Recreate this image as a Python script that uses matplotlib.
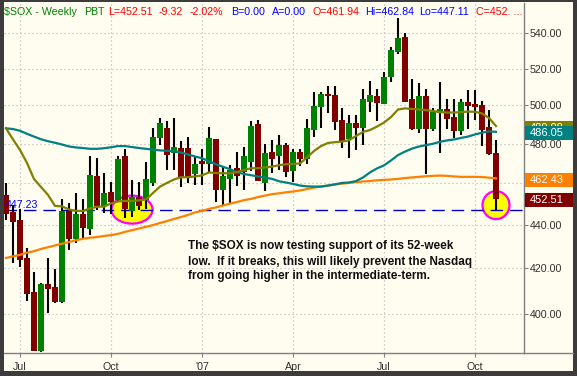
import numpy as np
import matplotlib
matplotlib.use("Agg")
import matplotlib.pyplot as plt
from matplotlib.patches import Ellipse, Rectangle
from matplotlib.lines import Line2D
from matplotlib.transforms import ScaledTranslation, blended_transform_factory
from matplotlib.ticker import FixedLocator, NullLocator, FuncFormatter

plt.rcParams['font.family'] = ['Liberation Sans', 'DejaVu Sans']

# weekly candles, $SOX, mid-June 2006 .. late Oct 2007
opens = [454.3, 446.3, 442.3, 424.7, 409.3, 384.6, 412.9, 411.7, 405.3, 446.6,
         433.4, 445.2, 438.0, 463.6, 449.2, 455.8, 451.9, 473.6, 446.8, 453.5,
         451.9, 460.0, 482.7, 488.3, 475.2, 477.7, 477.6, 464.5, 471.1, 469.6,
         482.3, 456.7, 461.9, 467.8, 465.5, 470.8, 490.2, 460.0, 475.8, 473.4,
         479.0, 466.0, 475.8, 472.0, 487.0, 498.9, 506.2, 505.6, 492.2, 482.3,
         490.8, 488.2, 502.0, 505.1, 500.7, 515.2, 529.6, 537.9, 503.5, 487.7,
         505.1, 487.7, 495.8, 498.1, 494.0, 486.6, 501.7, 500.7, 500.0, 488.7,
         475.3]
highs = [460.3, 449.5, 447.5, 429.3, 418.2, 413.5, 424.7, 419.9, 452.2, 450.4,
         455.2, 452.2, 473.6, 472.5, 465.2, 460.8, 473.6, 477.1, 461.6, 460.6,
         470.8, 487.9, 493.1, 491.7, 493.1, 481.3, 483.3, 473.4, 477.4, 488.5,
         482.5, 468.0, 469.1, 475.7, 478.4, 491.7, 492.2, 479.6, 481.8, 484.4,
         480.3, 477.1, 477.1, 492.6, 507.4, 507.4, 510.4, 510.4, 498.4, 494.9,
         494.9, 508.6, 513.2, 508.6, 518.4, 532.4, 549.3, 540.4, 514.3, 511.9,
         508.9, 498.4, 512.9, 503.2, 503.5, 503.5, 508.3, 508.3, 502.2, 497.5,
         481.8]
lows = [442.3, 422.3, 420.8, 405.7, 384.3, 384.2, 400.6, 404.6, 404.8, 428.3,
        431.4, 433.6, 435.3, 447.1, 445.5, 445.2, 451.4, 443.1, 443.9, 447.1,
        447.4, 458.7, 479.2, 466.6, 466.6, 458.2, 460.2, 459.2, 459.2, 465.0,
        451.1, 448.8, 450.4, 458.7, 456.7, 466.0, 460.9, 456.4, 465.0, 466.6,
        463.3, 460.8, 468.5, 469.6, 483.2, 487.9, 495.8, 486.8, 477.7, 472.8,
        476.7, 479.5, 496.6, 491.8, 500.5, 512.9, 528.1, 501.6, 486.8, 485.5,
        464.6, 486.6, 475.3, 487.4, 482.7, 484.4, 487.4, 492.2, 478.9, 474.3,
        447.11]
closes = [445.2, 441.5, 423.8, 408.7, 384.6, 412.9, 410.7, 405.1, 446.6, 433.4,
          445.2, 438.5, 464.1, 449.2, 455.4, 450.9, 471.9, 447.6, 453.2, 449.2,
          461.9, 483.3, 490.5, 474.3, 478.4, 463.2, 462.9, 469.6, 469.6, 483.0,
          456.7, 463.6, 466.6, 463.4, 473.6, 489.1, 461.3, 475.2, 471.9, 479.0,
          465.7, 475.8, 472.0, 488.2, 499.5, 506.2, 504.8, 491.3, 480.9, 490.5,
          488.2, 503.7, 505.6, 501.3, 515.2, 530.5, 537.4, 502.0, 487.7, 505.1,
          487.7, 496.6, 498.1, 492.8, 486.6, 501.7, 499.5, 499.2, 487.0, 474.6,
          452.51]

ma_short = [487.9, 482.1, 476.7, 470.1, 462.1, 458.2, 454.3, 449.0, 448.8, 447.3,
            446.6, 446.6, 447.8, 448.6, 448.7, 450.2, 451.2, 451.4, 451.4, 451.7,
            452.1, 455.3, 458.4, 460.2, 461.9, 463.0, 463.0, 463.4, 463.9, 465.4,
            465.1, 465.0, 465.0, 465.6, 466.6, 467.5, 467.5, 467.9, 468.3, 469.0,
            469.5, 469.6, 469.9, 472.9, 476.2, 478.7, 480.3, 480.7, 481.0, 481.7,
            483.9, 486.0, 487.0, 488.8, 490.9, 493.8, 497.8, 498.4, 498.1, 497.8,
            497.5, 497.0, 496.4, 496.2, 496.2, 496.4, 496.7, 496.6, 495.7, 493.3,
            489.08]
ma_mid = [487.9, 487.5, 486.6, 485.0, 483.6, 482.2, 481.2, 480.4, 479.5, 478.5,
          478.0, 477.7, 477.3, 477.3, 477.6, 478.1, 478.7, 478.7, 478.2, 477.7,
          477.3, 476.9, 476.5, 476.3, 476.1, 475.4, 474.4, 473.4, 472.5, 471.0,
          469.5, 468.2, 467.0, 465.5, 464.6, 464.0, 463.4, 462.8, 462.2, 461.0,
          460.4, 459.7, 458.9, 458.5, 458.4, 458.4, 458.9, 459.5, 460.2, 460.4,
          461.1, 462.9, 465.4, 467.4, 468.9, 471.4, 474.1, 475.9, 477.4, 478.5,
          479.2, 479.9, 480.9, 481.6, 482.1, 482.9, 483.6, 484.7, 485.6, 486.3,
          486.05]
ma_long = [424.7, 425.4, 426.1, 427.1, 427.8, 428.8, 429.6, 430.4, 431.2, 432.0,
           432.8, 433.5, 434.0, 434.3, 434.8, 435.2, 435.8, 436.7, 437.5, 438.3,
           439.1, 439.9, 440.9, 441.8, 442.8, 443.7, 444.7, 445.9, 446.6, 447.6,
           448.3, 449.2, 450.1, 450.9, 451.8, 452.4, 453.3, 454.0, 454.7, 455.1,
           455.6, 456.0, 456.5, 457.2, 457.9, 458.4, 458.9, 459.4, 459.8, 460.2,
           460.6, 460.9, 461.1, 461.5, 461.7, 461.9, 462.2, 462.6, 462.9, 463.2,
           463.5, 463.7, 463.8, 463.7, 463.4, 463.2, 463.2, 463.2, 463.1, 462.8,
           462.43]

support = 447.23
tick_weeks = [2, 15, 28, 41, 54, 67]
tick_labels = ["Jul", "Oct", "'07", "Apr", "Jul", "Oct"]
price_ticks = [400, 420, 440, 460, 480, 500, 520, 540]
circled_weeks = [18, 70]

title_parts = [("$SOX - Weekly", "#008000", 4.5), ("PBT", "#008000", 84),
               ("L=452.51", "#ff0000", 108.5), ("-9.32", "#ff0000", 159),
               ("-2.02%", "#ff0000", 190), ("B=0.00", "#0000ff", 231),
               ("A=0.00", "#0000ff", 271.5), ("O=461.94", "#ff0000", 312.5),
               ("Hi=462.84", "#0000ff", 365), ("Lo=447.11", "#0000ff", 419.5),
               ("C=452. ...", "#ff0000", 476.5)]
note_lines = ["The $SOX is now testing support of its 52-week",
              "low.  If it breaks, this will likely prevent the Nasdaq",
              "from going higher in the intermediate-term."]

BG = "#fffcf0"
W, H = 577, 376


def fx(px):
    return px / W


def fy(py):
    return 1 - py / H


fig = plt.figure(figsize=(W / 100, H / 100), dpi=100, facecolor="#3c3c3c")
fig.patches.append(Rectangle((fx(4), fy(371)), fx(573) - fx(4), fy(2) - fy(371),
                             transform=fig.transFigure, facecolor=BG,
                             edgecolor="none", zorder=-10))

ax = fig.add_axes([fx(4), fy(353.3), fx(524) - fx(4), fy(3) - fy(353.3)])
ax.set_facecolor(BG)
ax.set_yscale("log")

o = np.array(opens)
c = np.array(closes)
x = np.arange(len(c))
up = c >= o

# candles
ax.vlines(x, lows, highs, color="black", lw=1.5, zorder=3)
ax.bar(x, np.abs(c - o), bottom=np.minimum(o, c), width=0.8,
       color=np.where(up, "#008000", "#800000"), zorder=4)

# moving averages
ax.plot(x, ma_long, color="#ff8000", lw=1.6, zorder=5)
ax.plot(x, ma_mid, color="#008080", lw=1.6, zorder=5)
ax.plot(x, ma_short, color="#808000", lw=1.6, zorder=5)

# 52-week low
ax.axhline(support, color="#0000cc", lw=1, dashes=(9, 5), zorder=2)
ax.text(0.003, support, "447.23", color="#0000ff", fontsize=7.7,
        transform=blended_transform_factory(ax.transAxes, ax.transData),
        va="bottom", ha="left", zorder=6)


def ring(wk, w_px, h_px, dy_px=0):
    tr = fig.dpi_scale_trans + ScaledTranslation(wk, support, ax.transData)
    ax.add_patch(Ellipse((0, dy_px / 100), w_px / 100, h_px / 100, transform=tr,
                         facecolor="#ffff00", edgecolor="#ff00ff", lw=1.6,
                         zorder=1.5, clip_on=False))


ring(circled_weeks[0], 41, 28)
ring(circled_weeks[1], 27, 28, dy_px=4.5)

# axes look
ax.set_xlim(-0.29, 74.0)
ax.set_ylim(383.5, 557.9)
for s in ["left", "top"]:
    ax.spines[s].set_visible(False)
for s in ["right", "bottom"]:
    ax.spines[s].set_color("#808080")
    ax.spines[s].set_linewidth(1)
fig.lines.append(Line2D([fx(524), fx(573)], [fy(353.3), fy(353.3)],
                        transform=fig.transFigure, color="#808080", lw=1))

ax.yaxis.set_major_locator(FixedLocator(price_ticks))
ax.yaxis.set_minor_locator(NullLocator())
ax.yaxis.set_major_formatter(FuncFormatter(lambda v, p: f"{v:.2f}"))
ax.set_xticks(tick_weeks)
ax.set_xticklabels(tick_labels)
ax.tick_params(axis="y", which="both", left=False, right=True, labelleft=False,
               labelright=True, direction="out", length=3, color="#808080",
               pad=1, labelsize=7.7, labelcolor="#303030")
ax.tick_params(axis="x", direction="out", length=3, color="#808080", pad=3,
               labelsize=7.7, labelcolor="#303030")
ax.grid(True, color="#b4b4b4", lw=0.8, linestyle=(0, (1, 2.6)))
ax.set_axisbelow(True)

# value flags on the price scale
base = blended_transform_factory(ax.transAxes, ax.transData)
flags = [(ma_short[-1], "#808000"), (ma_mid[-1], "#008080"),
         (ma_long[-1], "#ff8000"), (closes[-1], "#800000")]
for k, (val, col) in enumerate(flags):
    tr = fig.dpi_scale_trans + ScaledTranslation(1.0, val, base)
    ax.add_patch(Rectangle((0.01, -0.085), 0.48, 0.14, transform=tr,
                           facecolor=col, edgecolor="none", clip_on=False,
                           zorder=10 + k))
    ax.annotate(f"{val:.2f}", xy=(1.0, val), xycoords=base, xytext=(6, -1.5),
                textcoords="offset pixels", ha="left", va="center",
                color="white", fontsize=8, zorder=10 + k, annotation_clip=False)

# header
for txt, col, px in title_parts:
    fig.text(fx(px), fy(12), txt, color=col, fontsize=7.7, va="center", ha="left")

for n, line in enumerate(note_lines):
    fig.text(fx(188), fy(246.5 + 15 * n), line, fontsize=8.5, fontweight="bold",
             color="#101010", va="center", ha="left")

fig.savefig("out.png", dpi=100, facecolor=fig.get_facecolor())
